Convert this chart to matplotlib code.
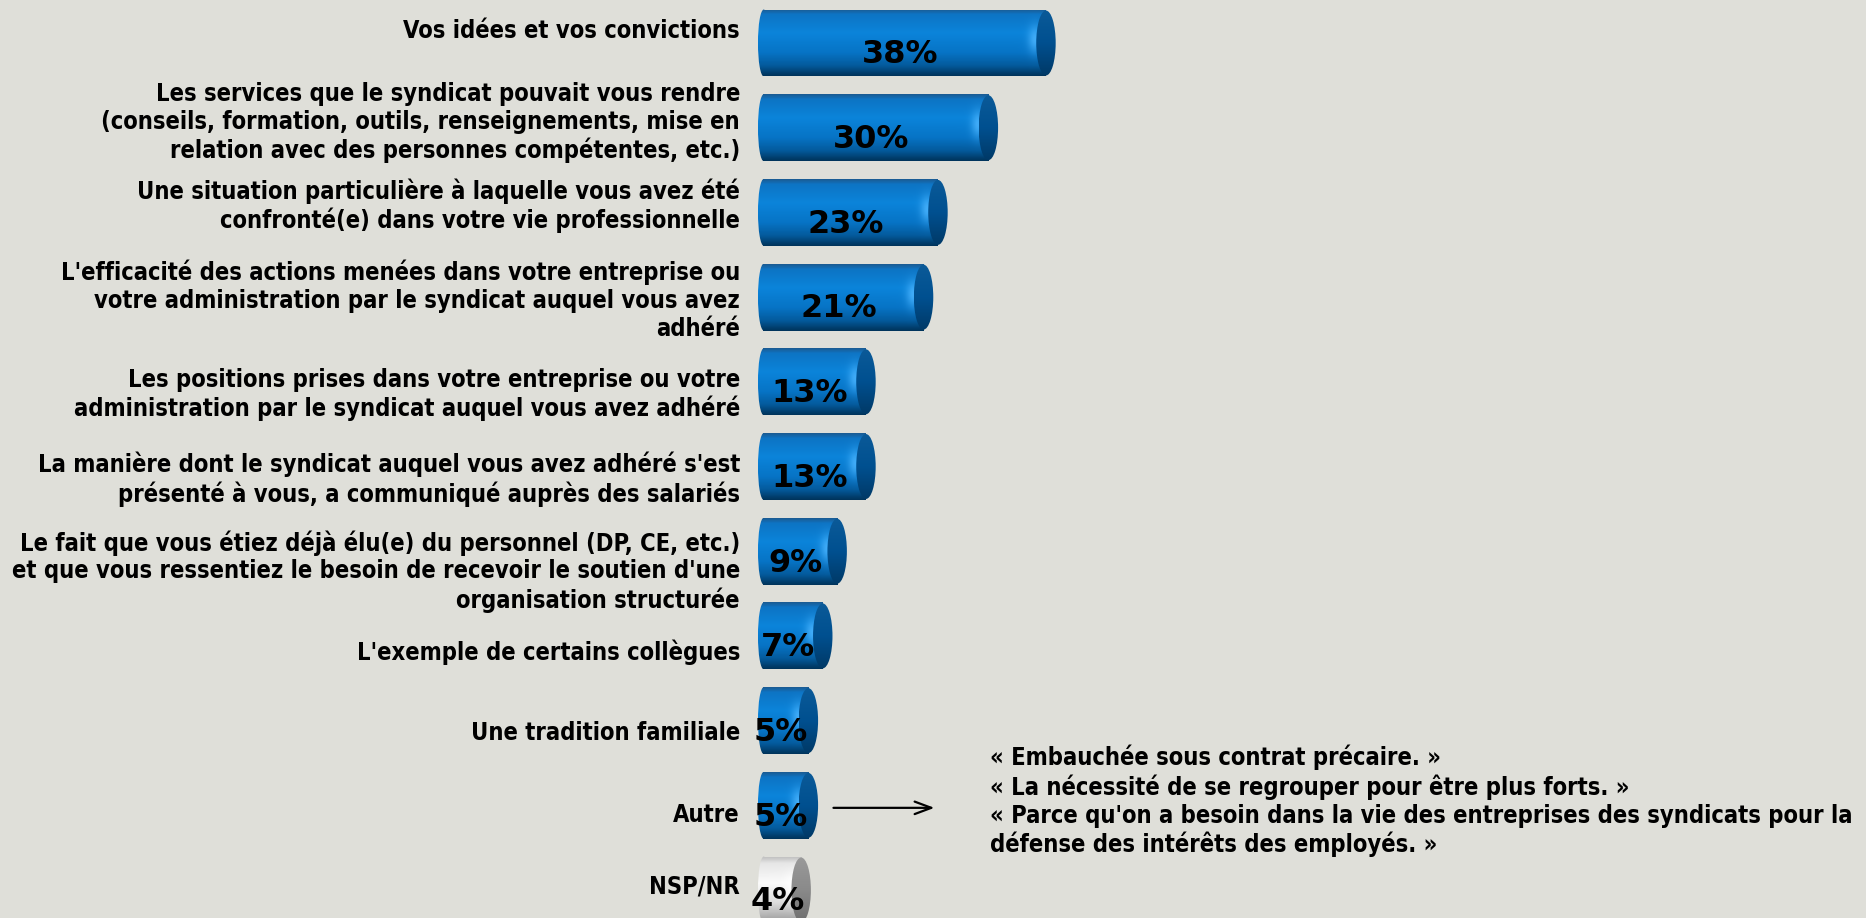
"""
Raisons de l'adhésion au syndicat - barres cylindriques
"""

import numpy as np
import matplotlib
matplotlib.use('Agg')
import matplotlib.pyplot as plt
from matplotlib import font_manager as fm
from matplotlib.colors import LinearSegmentedColormap, to_rgb
from matplotlib.patches import Ellipse

# données
categories = [
    "Vos idées et vos convictions",
    "Les services que le syndicat pouvait vous rendre\n(conseils, formation, outils, renseignements, mise en\nrelation avec des personnes compétentes, etc.)",
    "Une situation particulière à laquelle vous avez été\nconfronté(e) dans votre vie professionnelle",
    "L'efficacité des actions menées dans votre entreprise ou\nvotre administration par le syndicat auquel vous avez\nadhéré",
    "Les positions prises dans votre entreprise ou votre\nadministration par le syndicat auquel vous avez adhéré",
    "La manière dont le syndicat auquel vous avez adhéré s'est\nprésenté à vous, a communiqué auprès des salariés",
    "Le fait que vous étiez déjà élu(e) du personnel (DP, CE, etc.)\net que vous ressentiez le besoin de recevoir le soutien d'une\norganisation structurée",
    "L'exemple de certains collègues",
    "Une tradition familiale",
    "Autre",
    "NSP/NR",
]
values = [38, 30, 23, 21, 13, 13, 9, 7, 5, 5, 4]
is_nsp = [False] * 10 + [True]

quotes = [
    "« Embauchée sous contrat précaire. »",
    "« La nécessité de se regrouper pour être plus forts. »",
    "« Parce qu'on a besoin dans la vie des entreprises des syndicats pour la",
    "défense des intérêts des employés. »",
]

# police étroite si disponible
label_font = dict(family='DejaVu Sans', stretch='normal')
for f in fm.fontManager.ttflist:
    if f.name == 'DejaVu Sans' and 'ondensed' in str(f.stretch) or 'Condensed' in f.fname and 'DejaVu' in f.fname:
        label_font = dict(family='DejaVu Sans', stretch='condensed')
        break
else:
    names = {f.name for f in fm.fontManager.ttflist}
    if 'Liberation Sans Narrow' in names:
        label_font = dict(family='Liberation Sans Narrow', stretch='normal')

BG = '#dfdfd9'
blue_cmap = LinearSegmentedColormap.from_list('b', [
    (0.0, '#1b5c94'), (0.07, '#0d74c4'), (0.35, '#0b84da'),
    (0.65, '#0774c6'), (0.85, '#045a9c'), (1.0, '#00345c')])
blue_cap = LinearSegmentedColormap.from_list('bc', [
    (0.0, '#0b5a98'), (0.5, '#005090'), (1.0, '#003966')])
grey_cmap = LinearSegmentedColormap.from_list('g', [
    (0.0, '#bdbdbd'), (0.1, '#e6e6e6'), (0.4, '#fbfbfb'),
    (0.7, '#dcdcdc'), (1.0, '#9a9a9a')])
grey_cap = LinearSegmentedColormap.from_list('gc', [
    (0.0, '#9a9a9a'), (0.5, '#8a8a8a'), (1.0, '#6e6e6e')])

fig = plt.figure(figsize=(18.66, 9.18), dpi=100, facecolor=BG)
ax = fig.add_axes([0, 0, 1, 1])
ax.set_facecolor(BG)
px = 7.2            # pixels par point de %
step = 84.7         # pixels entre barres
ax.set_xlim(-763 / px, (1866 - 763) / px)
ax.set_ylim((918 - 43) / step, -43 / step)
ax.axis('off')

n = len(values)
ypos = np.arange(n)
bar_h = 0.79
cap_off = 1.3       # décalage du bout en unités de %
cap_w = 2.7
# décalage vertical des libellés (en fraction d'intervalle)
label_shift = [-0.14, -0.06, -0.08, 0.04, 0.15, 0.15, 0.24, 0.19, 0.15, 0.12, -0.04]

bars = ax.barh(ypos, [v + cap_off for v in values], height=bar_h,
               color='none', edgecolor='none')

for i, (b, v) in enumerate(zip(bars, values)):
    cm_body = grey_cmap if is_nsp[i] else blue_cmap
    cm_cap = grey_cap if is_nsp[i] else blue_cap
    x0, x1 = b.get_x(), b.get_x() + b.get_width()
    yc = ypos[i]
    top, bot = yc - bar_h / 2, yc + bar_h / 2

    # corps du cylindre avec reflet près du bout
    H, W = 80, 300
    xs = np.linspace(x0 - 0.7, x1, W)
    ys = np.linspace(0, 1, H)
    img = cm_body(ys)[:, None, :3] * np.ones((1, W, 1))
    light = np.array(to_rgb('#ffffff' if is_nsp[i] else '#4ab4ff'))
    glow = (np.exp(-((xs - (x1 - 1.4)) / 1.0) ** 2)[None, :] *
            np.exp(-((ys - 0.45) / 0.2) ** 2)[:, None])
    img = img * (1 - 0.85 * glow[..., None]) + light * 0.85 * glow[..., None]
    im = ax.imshow(img, extent=(x0 - 0.7, x1, bot, top), aspect='auto',
                   origin='upper', zorder=2, interpolation='bilinear')
    im.set_clip_path(b)
    # bout gauche arrondi
    left = Ellipse((x0 + 0.1, yc), 1.6, bar_h, transform=ax.transData,
                   facecolor='none', edgecolor='none')
    ax.add_patch(left)
    im2 = ax.imshow(cm_body(ys)[:, None, :3] * np.ones((1, 10, 1)),
                    extent=(x0 - 0.7, x0 + 0.9, bot, top), aspect='auto',
                    origin='upper', zorder=2, interpolation='bilinear')
    im2.set_clip_path(left)
    # bout droit (ellipse)
    cap = Ellipse((x1, yc), cap_w, bar_h * 0.97, transform=ax.transData,
                  facecolor='none', edgecolor='none')
    ax.add_patch(cap)
    im3 = ax.imshow(cm_cap(ys)[:, None, :3] * np.ones((1, 10, 1)),
                    extent=(x1 - cap_w / 2, x1 + cap_w / 2, bot, top),
                    aspect='auto', origin='upper', zorder=3,
                    interpolation='bilinear')
    im3.set_clip_path(cap)

    # pourcentage
    ax.text(v / 2, yc + 0.14, f"{v}%", ha='center', va='center',
            fontsize=23, fontweight='bold', family='DejaVu Sans',
            color='black', zorder=5)

    # libellé
    ax.text(-3.2, yc + label_shift[i], categories[i], ha='right', va='center',
            multialignment='right', fontsize=17, fontweight='bold',
            linespacing=1.2, color='black', **label_font)

# flèche vers les verbatims
ax.annotate('', xy=(24.2, 9.03), xytext=(9.4, 9.03),
            arrowprops=dict(arrowstyle='->,head_length=1.2,head_width=0.45',
                            color='black', lw=1.6))
ax.text(31.5, 8.95, "\n".join(quotes), ha='left', va='center',
        fontsize=17, fontweight='bold', linespacing=1.2, color='black',
        **label_font)

plt.savefig('out.png', dpi=100, facecolor=BG)
plt.close()
